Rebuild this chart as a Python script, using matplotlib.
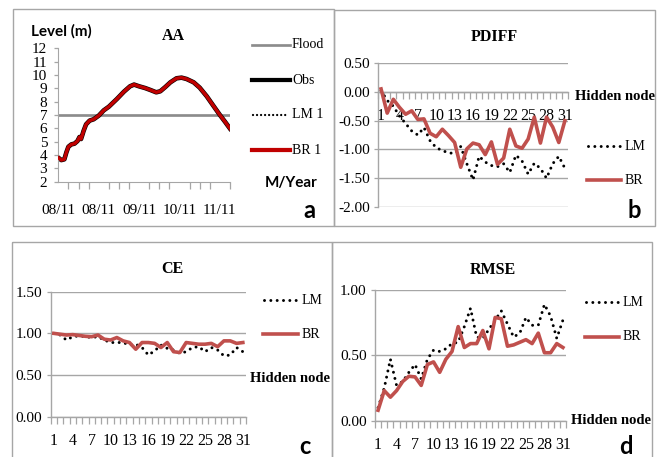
import matplotlib
matplotlib.use("Agg")
import matplotlib.pyplot as plt
from matplotlib.lines import Line2D
from matplotlib.patches import Rectangle

# ---------------------------------------------------------------- data
# Panel a: water level at AA (x in weekly tick units from start of 08/2011)
week = [0.0, 0.3, 0.6, 0.8, 1.0, 1.3, 1.6, 1.9, 2.1, 2.25, 2.4, 2.5, 2.75, 3.1,
        3.5, 4.0, 4.5, 5.0, 5.8, 6.5, 7.1, 7.5, 8.0, 8.6, 9.1, 9.7, 10.1, 10.6,
        11.1, 11.7, 12.2, 12.7, 13.4, 14.0, 14.7, 15.3, 16.0, 16.5, 17.0]
obs = [3.80, 3.62, 3.68, 4.20, 4.62, 4.80, 4.85, 5.05, 5.35, 5.20, 5.55, 5.80,
       6.30, 6.58, 6.68, 6.95, 7.35, 7.62, 8.20, 8.75, 9.15, 9.28, 9.15, 9.02,
       8.88, 8.70, 8.78, 9.10, 9.45, 9.75, 9.80, 9.70, 9.45, 9.05, 8.40, 7.75,
       7.00, 6.50, 5.98]
lm1 = list(obs)
br1 = list(obs)
flood_level = 7.0
month_ticks = [0, 4, 8, 12, 16]
month_labels = ["08/11", "08/11", "09/11", "10/11", "11/11"]

# Panels b-d: scores versus number of hidden nodes
nodes = list(range(1, 32))
node_labels = list(range(1, 32, 3))

pdiff_lm = [0.02, -0.15, -0.25, -0.42, -0.55, -0.68, -0.75, -0.62, -0.85, -0.97,
            -1.02, -1.06, -1.07, -0.95, -1.25, -1.53, -1.12, -1.22, -1.28, -1.30,
            -1.25, -1.40, -1.10, -1.20, -1.43, -1.24, -1.33, -1.50, -1.25, -1.12,
            -1.33]
pdiff_br = [0.05, -0.37, -0.13, -0.27, -0.39, -0.33, -0.48, -0.47, -0.72, -0.78,
            -0.65, -0.76, -0.88, -1.31, -0.99, -0.89, -0.92, -1.09, -0.87, -1.26,
            -1.15, -0.65, -0.94, -0.98, -0.82, -0.44, -0.89, -0.44, -0.61, -0.88,
            -0.50]

ce_lm = [1.00, 0.98, 0.92, 0.96, 0.97, 0.96, 0.95, 0.96, 0.92, 0.89,
         0.89, 0.89, 0.86, 0.87, 0.83, 0.74, 0.79, 0.86, 0.82, 0.80,
         0.76, 0.78, 0.83, 0.84, 0.78, 0.83, 0.80, 0.73, 0.74, 0.83,
         0.78]
ce_br = [1.00, 0.99, 0.98, 0.985, 0.975, 0.965, 0.96, 0.98, 0.93, 0.92,
         0.95, 0.91, 0.89, 0.81, 0.89, 0.89, 0.88, 0.83, 0.89, 0.78,
         0.77, 0.89, 0.88, 0.87, 0.87, 0.88, 0.84, 0.91, 0.91, 0.88,
         0.89]

rmse_lm = [0.10, 0.25, 0.47, 0.27, 0.30, 0.37, 0.43, 0.32, 0.47, 0.54,
           0.53, 0.55, 0.59, 0.60, 0.72, 0.86, 0.64, 0.63, 0.70, 0.77,
           0.84, 0.74, 0.64, 0.67, 0.79, 0.73, 0.73, 0.89, 0.80, 0.63,
           0.77]
rmse_br = [0.08, 0.23, 0.18, 0.23, 0.30, 0.34, 0.335, 0.27, 0.43, 0.45,
           0.37, 0.47, 0.53, 0.72, 0.56, 0.59, 0.59, 0.69, 0.55, 0.79,
           0.78, 0.57, 0.58, 0.60, 0.62, 0.59, 0.67, 0.52, 0.52, 0.59,
           0.56]

# ---------------------------------------------------------------- style
W, H = 667, 457
SERIF = "Liberation Serif"
SANS = "Lato"
plt.rcParams["font.family"] = [SERIF, "DejaVu Serif"]
GRAY = "#A6A6A6"
FLOOD_GRAY = "#8C8C8C"
RED_DARK = "#C00000"
RED = "#C0504D"
PT = 0.72  # points per pixel at 100 dpi

fig = plt.figure(figsize=(W / 100, H / 100), dpi=100)


def px_axes(x0, y0, x1, y1):
    return fig.add_axes([x0 / W, 1 - y1 / H, (x1 - x0) / W, (y1 - y0) / H])


def dotted(dot_px, gap_px):
    lw = dot_px * PT
    return dict(lw=lw, linestyle=(0, (0.01, gap_px * PT / lw)),
                dash_capstyle="round")


def style_node_axes(ax, ylim, yticks, xpad):
    ax.set_xlim(0.5, 31.5)
    ax.set_ylim(*ylim)
    ax.set_yticks(yticks)
    ax.set_yticklabels([f"{v:.2f}" for v in yticks])
    ax.set_xticks(node_labels)
    ax.set_xticklabels([str(v) for v in node_labels])
    ax.set_xticks([n + 0.5 for n in range(0, 32)], minor=True)
    ax.tick_params(axis="x", which="major", length=0, pad=xpad,
                   labelsize=11.5)
    ax.tick_params(axis="x", which="minor", length=5,
                   color=GRAY, width=0.9, direction="out")
    ax.tick_params(axis="y", length=3, color=GRAY, width=0.9, pad=3,
                   labelsize=11)
    for s in ("top", "right"):
        ax.spines[s].set_visible(False)
    for s in ("left", "bottom"):
        ax.spines[s].set_color(GRAY)
        ax.spines[s].set_linewidth(1.0)
    ax.grid(axis="y", color=GRAY, lw=1.0)
    ax.set_axisbelow(True)
    ax.patch.set_alpha(0)


# ---------------------------------------------------------------- panel a
axa = px_axes(58.3, 48.3, 230, 181.7)
axa.set_xlim(0, 17)
axa.set_ylim(2, 12)
axa.axhline(flood_level, color=FLOOD_GRAY, lw=2.7 * PT, zorder=1)
axa.plot(week, obs, color="black", lw=4.6 * PT, zorder=2)
axa.plot(week, lm1, color="black", zorder=3, **dotted(2.0, 4.0))
axa.plot(week, br1, color=RED_DARK, lw=3.4 * PT, zorder=4)
axa.set_yticks(range(2, 13))
axa.set_yticklabels([str(v) for v in range(2, 13)])
axa.set_xticks(month_ticks)
axa.set_xticklabels(month_labels)
axa.set_xticks(range(0, 18), minor=True)
axa.tick_params(axis="x", which="major", length=0, pad=16, labelsize=11)
axa.tick_params(axis="x", which="minor", length=5, color=GRAY, width=0.9)
axa.tick_params(axis="y", length=3, color=GRAY, width=0.9, pad=5,
                labelsize=11)
for s in ("top", "right"):
    axa.spines[s].set_visible(False)
for s in ("left", "bottom"):
    axa.spines[s].set_color(GRAY)
axa.patch.set_alpha(0)

# ---------------------------------------------------------------- panel b
axb = px_axes(378, 63, 568, 207)
axb.plot(nodes, pdiff_lm, color="black", zorder=3, **dotted(3.0, 6.3))
axb.plot(nodes, pdiff_br, color=RED, lw=3.6 * PT, zorder=4)
style_node_axes(axb, (-2.0, 0.5), [0.5, 0.0, -0.5, -1.0, -1.5, -2.0], 12)
axb.spines["bottom"].set_position(("data", 0))

# ---------------------------------------------------------------- panel c
axc = px_axes(50.7, 291.7, 246, 416.7)
axc.plot(nodes, ce_lm, color="black", zorder=3, **dotted(3.0, 6.3))
axc.plot(nodes, ce_br, color=RED, lw=3.6 * PT, zorder=4)
style_node_axes(axc, (0.0, 1.5), [0.0, 0.5, 1.0, 1.5], 12)

# ---------------------------------------------------------------- panel d
axd = px_axes(375, 290, 566, 420.7)
axd.plot(nodes, rmse_lm, color="black", zorder=3, **dotted(3.0, 6.3))
axd.plot(nodes, rmse_br, color=RED, lw=3.6 * PT, zorder=4)
style_node_axes(axd, (0.0, 1.0), [0.0, 0.5, 1.0], 11.5)

# ---------------------------------------------------------------- overlay: frames, titles, legends
ov = fig.add_axes([0, 0, 1, 1])
ov.set_xlim(0, W)
ov.set_ylim(H, 0)
ov.axis("off")

for (x0, y0, x1, y1) in [(13, 9, 334, 226), (334, 10, 655, 226),
                         (12, 242, 332, 460), (332, 242, 652, 460)]:
    ov.add_patch(Rectangle((x0, y0), x1 - x0, y1 - y0, fill=False,
                           edgecolor=GRAY, lw=1.0))


def txt(x, y, s, family=SERIF, size=11, weight="normal", ha="left"):
    ov.text(x, y, s, fontfamily=family, fontsize=size, fontweight=weight,
            ha=ha, va="center")


def legend_line(x0, x1, y, **kw):
    ov.add_line(Line2D([x0, x1], [y, y], **kw))


# panel a texts
txt(31, 31, "Level (m)", family=SANS, size=11, weight="bold")
txt(173, 36, "AA", size=11.5, weight="bold", ha="center")
txt(265, 183, "M/Year", family=SANS, size=11, weight="bold")
txt(309, 211, "a", family=SANS, size=17, weight="bold", ha="center")
legend_line(252, 290, 44.7, color=FLOOD_GRAY, lw=2.7 * PT)
legend_line(252, 290, 80, color="black", lw=4.2 * PT)
legend_line(253, 288, 115, color="black", **dotted(2.3, 4.0))
legend_line(252, 290, 150, color=RED_DARK, lw=4.2 * PT)
for y, s in [(44.7, "Flood"), (80, "Obs"), (115, "LM 1"), (150, "BR 1")]:
    txt(292, y, s, size=10)

# panel b texts
txt(494, 37, "PDIFF", size=11.5, weight="bold", ha="center")
txt(575, 97, "Hidden node", size=10.5, weight="bold")
legend_line(588, 620, 146, color="black", **dotted(3.0, 6.3))
legend_line(587, 621, 180, color=RED, lw=3.6 * PT)
txt(625, 146, "LM", size=10)
txt(625, 180, "BR", size=10)
txt(634, 210, "b", family=SANS, size=17, weight="bold", ha="center")

# panel c texts
txt(172, 269, "CE", size=11.5, weight="bold", ha="center")
txt(250, 378, "Hidden node", size=10.5, weight="bold")
legend_line(264, 297, 300, color="black", **dotted(3.0, 6.3))
legend_line(263, 298, 334, color=RED, lw=3.6 * PT)
txt(302, 300, "LM", size=10)
txt(302, 334, "BR", size=10)
txt(305, 447, "c", family=SANS, size=17, weight="bold", ha="center")

# panel d texts
txt(493, 270, "RMSE", size=11.5, weight="bold", ha="center")
txt(571, 421, "Hidden node", size=10.5, weight="bold")
legend_line(586, 618, 302, color="black", **dotted(3.0, 6.3))
legend_line(585, 619, 337, color=RED, lw=3.6 * PT)
txt(623, 302, "LM", size=10)
txt(623, 337, "BR", size=10)
txt(626, 447, "d", family=SANS, size=17, weight="bold", ha="center")

fig.savefig("out.png", dpi=100)
